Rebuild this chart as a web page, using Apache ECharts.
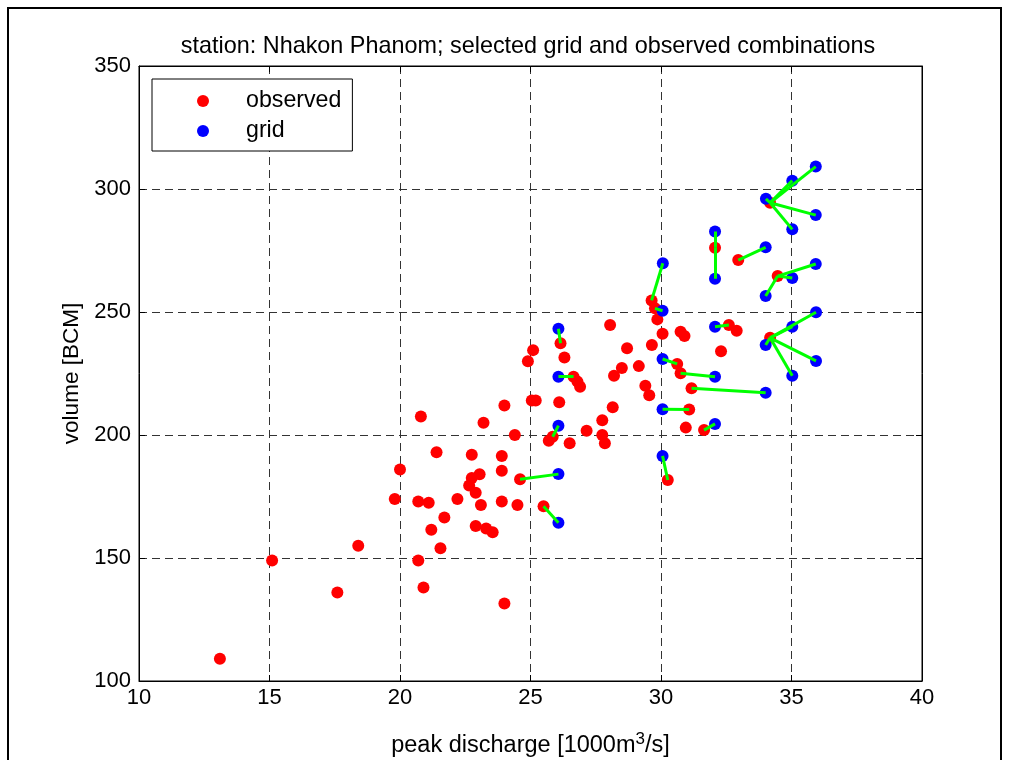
<!DOCTYPE html>
<html>
<head>
<meta charset="utf-8">
<script src="https://cdn.jsdelivr.net/npm/echarts@6/dist/echarts.min.js"></script>
<style>
html,body{margin:0;padding:0;background:#fff;}
#chart{width:1009px;height:760px;}
</style>
</head>
<body>
<div id="chart"></div>
<script>
// ---- data ----
const titleText = 'station: Nhakon Phanom; selected grid and observed combinations';
const xTicks = [10, 15, 20, 25, 30, 35, 40];
const yTicks = [100, 150, 200, 250, 300, 350];

const obsX = [13.1,15.1,17.6,18.4,19.8,20.0,20.7,20.8,20.7,20.9,
  21.1,21.2,21.4,21.55,21.7,22.2,22.75,23.05,22.75,22.65,
  22.9,23.1,23.2,22.9,23.3,23.55,23.9,23.9,23.9,24.0,
  24.0,24.4,24.5,24.6,24.9,25.1,25.05,25.2,25.5,25.7,
  25.85,26.1,26.15,26.3,26.5,26.65,26.8,26.9,27.15,27.75,
  27.75,27.85,28.05,28.15,28.2,28.5,28.7,29.15,29.4,29.55,
  29.65,29.64,29.77,29.86,30.06,30.26,30.62,30.75,30.75,30.9,
  30.95,31.08,31.17,31.65,32.07,32.3,32.6,32.9,32.96,34.18,
  34.18,34.47];
const obsY = [109,149,136,155,174,186,173,207.5,149,138,
  172.5,161.5,193,154,166.5,174,192,184,182.5,179.5,
  176.5,171.5,205,163,162,160.5,191.5,185.5,173,212,
  131.5,200,171.5,182,230,234.5,214,214,171,197.7,
  199.3,213.3,237.3,231.5,196.6,223.7,221.7,219.6,201.7,206,
  200,196.6,244.7,211.3,224.1,227.2,235.3,228,220,216.2,
  236.6,254.7,251.5,247,241.2,181.7,228.9,225.1,242,240.2,
  203,210.4,219,202,276.1,234,244.7,242.4,271.1,239.5,
  294.4,264.6];

const gridX = [26.07,26.07,26.07,26.07,26.07,30.07,30.06,30.06,30.06,30.06,
  32.07,32.07,32.07,32.07,32.07,34.01,34.01,34.01,34.01,34.02,
  35.03,35.03,35.03,35.03,35.03,35.93,35.94,35.94,35.93,35.93];
const gridY = [184.1,164.3,203.8,243.2,223.7,269.8,250.5,230.9,210.5,191.5,
  223.7,204.5,282.7,263.5,244,276.3,217.2,256.5,236.6,296,
  263.8,244,224.1,303.4,283.6,269.5,249.9,230.1,309.1,289.4];

// links: observed index -> grid index
const linkObs  = [33,38,40,42,45,61,62,66,71,65,67,73,74,74,76,78,72,81,81,81,79,79,79,79,79,80,80,80,80,80];
const linkGrid = [ 0, 1, 2, 3, 4, 5, 6, 7, 8, 9,10,11,12,13,14,15,16,20,25,17,18,21,26,27,22,19,23,28,29,24];

// ---- build ----
const obsData = obsX.map((x, i) => [x, obsY[i]]);
const gridData = gridX.map((x, i) => [x, gridY[i]]);
const linkData = linkObs.map((o, i) => ({coords: [[obsX[o], obsY[o]], [gridX[linkGrid[i]], gridY[linkGrid[i]]]]}));

const FONT = 'Liberation Sans';
const chart = echarts.init(document.getElementById('chart'), null, {renderer: 'canvas'});
chart.setOption({
  backgroundColor: '#ffffff',
  animation: false,
  textStyle: {fontFamily: FONT},
  title: {
    text: titleText,
    left: 523,
    textAlign: 'center',
    top: 30,
    textStyle: {fontFamily: FONT, fontSize: 23.4, fontWeight: 'normal', color: '#000'}
  },
  grid: {left: 139, right: 87, top: 66, bottom: 79, show: true, borderColor: '#000', borderWidth: 1,
    backgroundColor: '#fff', containLabel: false, outerBoundsMode: 'none'},
  legend: {
    data: ['observed', 'grid'],
    orient: 'vertical',
    left: 152, top: 79,
    backgroundColor: '#fff',
    borderColor: '#000', borderWidth: 1, borderRadius: 0,
    padding: [10, 11, 8, 45],
    itemGap: 6,
    itemWidth: 12, itemHeight: 12,
    icon: 'circle',
    textStyle: {fontFamily: FONT, fontSize: 23.2, color: '#000', lineHeight: 24, padding: [0, 0, 0, 32]}
  },
  xAxis: [{
    type: 'value', min: 10, max: 40, interval: 5,
    name: 'peak discharge [1000m{sup|3}/s]',
    nameLocation: 'middle', nameGap: 50,
    nameTextStyle: {fontFamily: FONT, fontSize: 23.5, color: '#000',
      rich: {sup: {fontFamily: FONT, fontSize: 17, verticalAlign: 'top', padding: [0,0,12,0], color: '#000'}}},
    axisLine: {show: true, lineStyle: {color: '#000', width: 1}},
    axisTick: {show: true, inside: true, length: 6, lineStyle: {color: '#000'}},
    axisLabel: {fontFamily: FONT, fontSize: 22, color: '#000', margin: 6},
    splitLine: {show: true, lineStyle: {color: '#333', type: [8, 5], width: 1}}
  }, {
    type: 'value', min: 10, max: 40, interval: 5, position: 'top',
    axisLine: {show: true, lineStyle: {color: '#000'}},
    axisTick: {show: true, inside: true, length: 6, lineStyle: {color: '#000'}},
    axisLabel: {show: false}, splitLine: {show: false}
  }],
  yAxis: [{
    type: 'value', min: 100, max: 350, interval: 50,
    name: 'volume [BCM]',
    nameLocation: 'middle', nameGap: 56, nameRotate: 90,
    nameTextStyle: {fontFamily: FONT, fontSize: 22.5, color: '#000'},
    axisLine: {show: true, lineStyle: {color: '#000', width: 1}},
    axisTick: {show: true, inside: true, length: 6, lineStyle: {color: '#000'}},
    axisLabel: {fontFamily: FONT, fontSize: 22, color: '#000', margin: 8},
    splitLine: {show: true, lineStyle: {color: '#333', type: [8, 5], width: 1}}
  }, {
    type: 'value', min: 100, max: 350, interval: 50, position: 'right',
    axisLine: {show: true, lineStyle: {color: '#000'}},
    axisTick: {show: true, inside: true, length: 6, lineStyle: {color: '#000'}},
    axisLabel: {show: false}, splitLine: {show: false}
  }],
  series: [{
    name: 'observed', type: 'scatter', data: obsData, z: 2,
    symbol: 'circle', symbolSize: 12,
    itemStyle: {color: '#ff0000', opacity: 1}
  }, {
    name: 'grid', type: 'scatter', data: gridData, z: 3,
    symbol: 'circle', symbolSize: 12,
    itemStyle: {color: '#0000ff', opacity: 1}
  }, {
    name: 'links', type: 'lines', coordinateSystem: 'cartesian2d', z: 4,
    data: linkData, symbol: 'none',
    lineStyle: {color: '#00ff00', width: 3, opacity: 1, curveness: 0}
  }],
  graphic: [{
    type: 'rect', silent: true, z: 100,
    shape: {x: 8, y: 8, width: 993, height: 770},
    style: {fill: 'none', stroke: '#000', lineWidth: 2}
  }]
});
</script>
</body>
</html>
